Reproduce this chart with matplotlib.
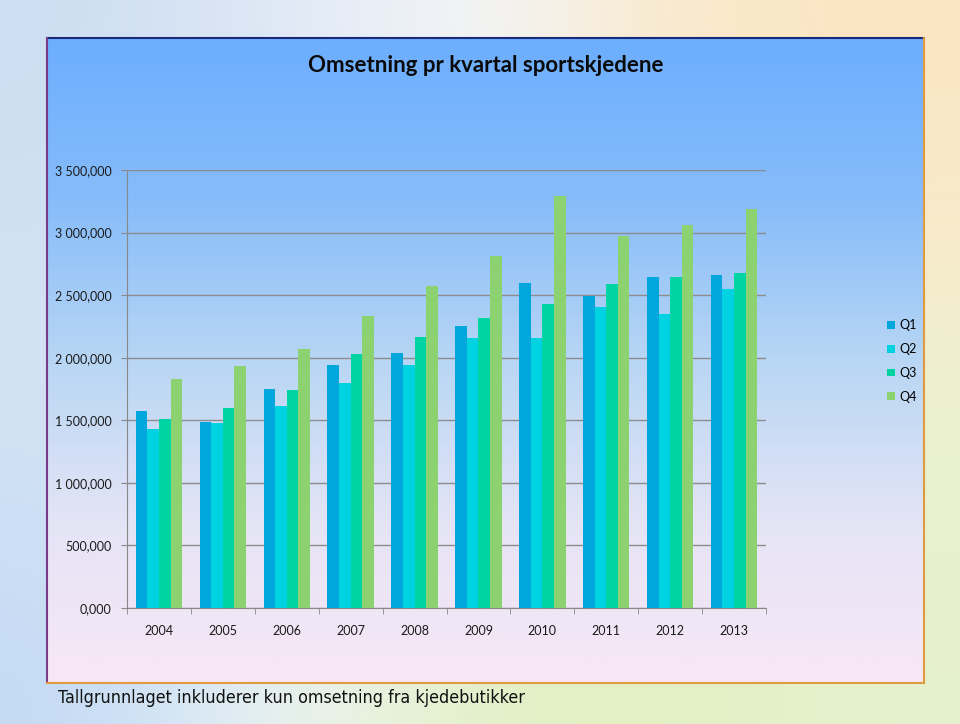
import numpy as np
import matplotlib.pyplot as plt
from matplotlib.colors import LinearSegmentedColormap
from matplotlib.ticker import FuncFormatter

# Kvartalsomsetning per år (lest av figuren)
years = ["2004", "2005", "2006", "2007", "2008", "2009", "2010", "2011", "2012", "2013"]
q1 = [1577000, 1486000, 1748000, 1939000, 2035000, 2256000, 2594000, 2493000, 2645000, 2664000]
q2 = [1428000, 1476000, 1614000, 1795000, 1942000, 2155000, 2160000, 2405000, 2352000, 2549000]
q3 = [1508000, 1598000, 1740000, 2030000, 2166000, 2320000, 2432000, 2589000, 2645000, 2677000]
q4 = [1827000, 1934000, 2070000, 2333000, 2573000, 2815000, 3295000, 2975000, 3063000, 3186000]
series = {"Q1": q1, "Q2": q2, "Q3": q3, "Q4": q4}
colors = ["#00a6dc", "#00d2e2", "#00d4a2", "#8dd270"]

W, H = 960, 724
fig = plt.figure(figsize=(W / 100, H / 100), dpi=100)

# slide background: soft blurred blobs
bg = fig.add_axes([0, 0, 1, 1], zorder=-10)
bg_img = np.array([
    [[205, 222, 242], [225, 233, 245], [245, 248, 252], [250, 232, 200], [252, 230, 195]],
    [[210, 226, 244], [215, 228, 242], [230, 235, 238], [240, 232, 210], [246, 236, 205]],
    [[210, 226, 244], [220, 230, 240], [228, 236, 225], [232, 240, 205], [232, 242, 205]],
    [[195, 218, 245], [240, 246, 245], [226, 240, 195], [226, 240, 195], [230, 242, 205]],
]) / 255.0
bg.imshow(bg_img, extent=[0, W, 0, H], aspect="auto", interpolation="bicubic")
bg.set_xlim(0, W)
bg.set_ylim(0, H)
bg.axis("off")

# chart area with vertical gradient
x0, y0, x1, y1 = 47, 724 - 683, 924, 724 - 38
grad = LinearSegmentedColormap.from_list(
    "g", ["#f8e8f6", "#e4e4f6", "#b8d6f4", "#86bcfa", "#6caefe"])
bg.imshow(np.linspace(0, 1, 256).reshape(-1, 1), cmap=grad, origin="lower",
          extent=[x0, x1, y0, y1], aspect="auto", zorder=1)
bg.plot([x0, x1], [y1, y1], color="#1a2a7a", lw=1.5, zorder=2)
bg.plot([x0, x0], [y0, y1], color="#7a3a8a", lw=1.5, zorder=2)
bg.plot([x1, x1], [y0, y1], color="#e09a40", lw=1.5, zorder=2)
bg.plot([x0, x1], [y0, y0], color="#e09a40", lw=1.5, zorder=2)
bg.set_xlim(0, W)
bg.set_ylim(0, H)

fig.text(486 / W, 1 - 66 / H, "Omsetning pr kvartal sportskjedene",
         ha="center", va="center", fontsize=16, fontweight="bold",
         family="Lato", color="#0a0a0a")
fig.text(58 / W, 1 - 698 / H, "Tallgrunnlaget inkluderer kun omsetning fra kjedebutikker",
         ha="left", va="center", fontsize=12.8, family="DejaVu Sans",
         fontstretch="condensed", color="#111111")

# bar chart
ax = fig.add_axes([127 / W, 1 - 608 / H, (766 - 127) / W, (608 - 170) / H])
ax.patch.set_alpha(0)
x = np.arange(len(years))
bw = 1 / 5.5
for k, (name, vals) in enumerate(series.items()):
    ax.bar(x + (k - 1.5) * bw, vals, width=bw, color=colors[k], label=name, zorder=3)

ax.set_xlim(-0.5, len(years) - 0.5)
ax.set_ylim(0, 3500000)
ax.set_yticks(np.arange(0, 3500001, 500000))
ax.yaxis.set_major_formatter(FuncFormatter(
    lambda v, p: "{:,.3f}".format(v / 1000).replace(",", " ").replace(".", ",")
    if v >= 1000000 else "{:,.3f}".format(v / 1000).replace(".", ",")))
ax.set_xticks(x)
ax.set_xticklabels(years)
ax.set_xticks(np.arange(-0.5, len(years)), minor=True)
ax.tick_params(axis="x", which="major", length=0, pad=12, labelsize=9)
ax.tick_params(axis="x", which="minor", length=4, color="#888888")
ax.tick_params(axis="y", length=4, color="#888888", labelsize=9, pad=7)
for lab in ax.get_xticklabels() + ax.get_yticklabels():
    lab.set_family("Lato")
    lab.set_color("#1a1a1a")
ax.grid(axis="y", color="#8c8c8c", lw=1, zorder=0)
for s in ["top", "right"]:
    ax.spines[s].set_visible(False)
ax.spines["left"].set_color("#888888")
ax.spines["bottom"].set_color("#888888")

leg = fig.legend(loc="center left", bbox_to_anchor=(876 / W, 1 - 361 / H),
                 frameon=False, handlelength=0.6, handleheight=0.6,
                 handletextpad=0.4, labelspacing=0.95,
                 prop={"family": "Lato", "size": 9})

fig.savefig("out.png", dpi=100)
